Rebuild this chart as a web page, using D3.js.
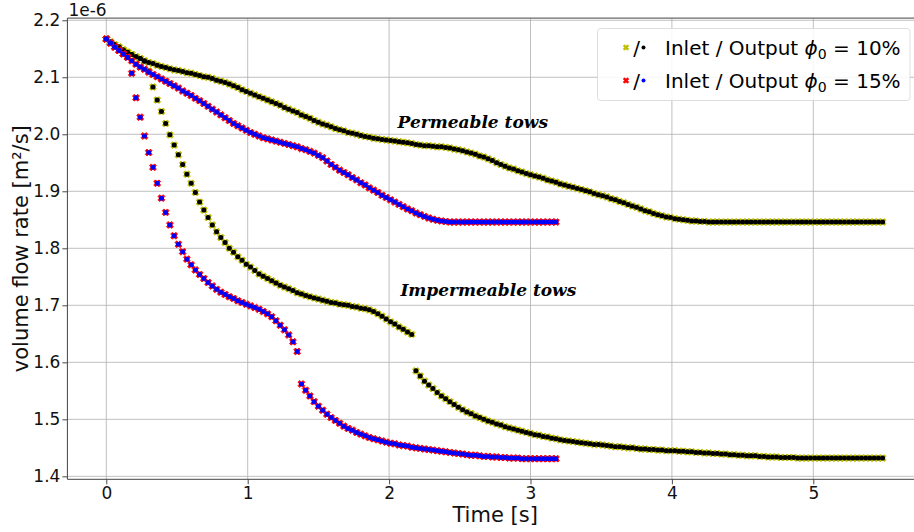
<!DOCTYPE html>
<html>
<head>
<meta charset="utf-8">
<script src="https://cdn.jsdelivr.net/npm/d3@7"></script>
<style>
  html, body { margin: 0; padding: 0; background: #fff; }
  svg { display: block; font-family: "DejaVu Sans", sans-serif; }
</style>
</head>
<body>
<svg id="chart" width="914" height="532"></svg>
<script>
// flow rate samples (x 1e-6 m^2/s), one sample every timeStep seconds
const timeStep = 0.03;

const perm10 = [
  2.167, 2.162, 2.157, 2.153, 2.148, 2.144, 2.140, 2.136, 2.133, 2.129,
  2.126, 2.124, 2.121, 2.119, 2.117, 2.115, 2.113, 2.112, 2.110, 2.108,
  2.107, 2.105, 2.103, 2.101, 2.100, 2.098, 2.095, 2.093, 2.091, 2.088,
  2.085, 2.082, 2.078, 2.075, 2.072, 2.069, 2.066, 2.063, 2.060, 2.057,
  2.054, 2.051, 2.047, 2.044, 2.041, 2.038, 2.034, 2.031, 2.028, 2.024,
  2.021, 2.018, 2.016, 2.013, 2.010, 2.008, 2.006, 2.003, 2.002, 2.000,
  1.998, 1.996, 1.995, 1.993, 1.992, 1.991, 1.990, 1.989, 1.988, 1.987,
  1.986, 1.985, 1.984, 1.982, 1.981, 1.980, 1.980, 1.979, 1.978, 1.978,
  1.977, 1.976, 1.974, 1.973, 1.971, 1.969, 1.967, 1.965, 1.962, 1.960,
  1.957, 1.954, 1.950, 1.947, 1.944, 1.941, 1.939, 1.936, 1.934, 1.931,
  1.929, 1.927, 1.925, 1.923, 1.920, 1.918, 1.916, 1.913, 1.911, 1.909,
  1.907, 1.905, 1.903, 1.901, 1.899, 1.896, 1.894, 1.892, 1.890, 1.887,
  1.885, 1.882, 1.880, 1.877, 1.874, 1.872, 1.869, 1.866, 1.864, 1.861,
  1.859, 1.857, 1.855, 1.854, 1.852, 1.851, 1.850, 1.849, 1.848, 1.848,
  1.847, 1.847, 1.846, 1.846, 1.846, 1.846, 1.846, 1.846, 1.846, 1.846,
  1.846, 1.846, 1.846, 1.846, 1.846, 1.846, 1.846, 1.846, 1.846, 1.846,
  1.846, 1.846, 1.846, 1.846, 1.846, 1.846, 1.846, 1.846, 1.846, 1.846,
  1.846, 1.846, 1.846, 1.846, 1.846, 1.846, 1.846, 1.846, 1.846, 1.846,
  1.846, 1.846, 1.846, 1.846
];

const imperm10 = [
  2.167, 2.162, 2.157, 2.153, 2.148, 2.144, 2.140, 2.136, 2.133, 2.128,
  2.111, 2.083, 2.060, 2.040, 2.019, 1.999, 1.981, 1.964, 1.947, 1.930,
  1.914, 1.898, 1.881, 1.867, 1.854, 1.841, 1.829, 1.819, 1.810, 1.800,
  1.793, 1.785, 1.779, 1.772, 1.767, 1.761, 1.755, 1.751, 1.747, 1.743,
  1.739, 1.735, 1.732, 1.729, 1.726, 1.722, 1.720, 1.717, 1.715, 1.713,
  1.711, 1.709, 1.707, 1.705, 1.704, 1.702, 1.701, 1.700, 1.698, 1.697,
  1.695, 1.694, 1.692, 1.689, 1.685, 1.681, 1.676, 1.671, 1.667, 1.662,
  1.658, 1.653, 1.649, 1.585, 1.576, 1.567, 1.560, 1.554, 1.547, 1.541,
  1.536, 1.531, 1.526, 1.521, 1.517, 1.513, 1.510, 1.506, 1.503, 1.500,
  1.497, 1.495, 1.492, 1.490, 1.487, 1.485, 1.483, 1.481, 1.479, 1.477,
  1.475, 1.473, 1.472, 1.470, 1.469, 1.467, 1.466, 1.464, 1.463, 1.462,
  1.461, 1.460, 1.459, 1.458, 1.457, 1.456, 1.456, 1.455, 1.454, 1.453,
  1.452, 1.452, 1.451, 1.450, 1.450, 1.449, 1.448, 1.448, 1.447, 1.447,
  1.446, 1.446, 1.445, 1.445, 1.445, 1.444, 1.444, 1.443, 1.443, 1.442,
  1.442, 1.441, 1.441, 1.440, 1.440, 1.439, 1.439, 1.438, 1.438, 1.437,
  1.437, 1.436, 1.436, 1.436, 1.435, 1.435, 1.434, 1.434, 1.434, 1.433,
  1.433, 1.433, 1.433, 1.432, 1.432, 1.432, 1.432, 1.432, 1.432, 1.432,
  1.432, 1.432, 1.432, 1.432, 1.432, 1.432, 1.432, 1.432, 1.432, 1.432,
  1.432, 1.432, 1.432, 1.432
];

const perm15 = [
  2.167, 2.160, 2.153, 2.147, 2.141, 2.135, 2.129, 2.123, 2.118, 2.114,
  2.109, 2.105, 2.101, 2.097, 2.093, 2.089, 2.085, 2.081, 2.076, 2.072,
  2.068, 2.063, 2.059, 2.054, 2.049, 2.044, 2.039, 2.034, 2.029, 2.024,
  2.019, 2.015, 2.011, 2.007, 2.003, 2.000, 1.997, 1.994, 1.992, 1.990,
  1.988, 1.986, 1.984, 1.982, 1.980, 1.978, 1.975, 1.973, 1.970, 1.967,
  1.963, 1.959, 1.953, 1.947, 1.942, 1.937, 1.933, 1.929, 1.924, 1.920,
  1.915, 1.911, 1.906, 1.902, 1.898, 1.893, 1.889, 1.885, 1.881, 1.877,
  1.873, 1.869, 1.866, 1.862, 1.859, 1.856, 1.853, 1.851, 1.849, 1.848,
  1.847, 1.846, 1.846, 1.846, 1.846, 1.846, 1.846, 1.846, 1.846, 1.846,
  1.846, 1.846, 1.846, 1.846, 1.846, 1.846, 1.846, 1.846, 1.846, 1.846,
  1.846, 1.846, 1.846, 1.846, 1.846, 1.846, 1.846
];

const imperm15 = [
  2.167, 2.160, 2.153, 2.147, 2.141, 2.135, 2.107, 2.064, 2.030, 1.997,
  1.968, 1.942, 1.914, 1.888, 1.863, 1.841, 1.822, 1.807, 1.794, 1.781,
  1.771, 1.762, 1.754, 1.747, 1.740, 1.734, 1.728, 1.723, 1.719, 1.715,
  1.712, 1.708, 1.705, 1.702, 1.699, 1.696, 1.693, 1.689, 1.685, 1.680,
  1.673, 1.665, 1.657, 1.648, 1.636, 1.619, 1.562, 1.551, 1.541, 1.531,
  1.523, 1.516, 1.509, 1.503, 1.498, 1.493, 1.488, 1.484, 1.481, 1.477,
  1.474, 1.471, 1.468, 1.466, 1.464, 1.462, 1.460, 1.458, 1.457, 1.455,
  1.454, 1.453, 1.451, 1.450, 1.449, 1.448, 1.447, 1.446, 1.445, 1.444,
  1.443, 1.442, 1.441, 1.440, 1.439, 1.438, 1.437, 1.437, 1.436, 1.435,
  1.435, 1.434, 1.434, 1.433, 1.433, 1.432, 1.432, 1.432, 1.431, 1.431,
  1.431, 1.431, 1.431, 1.431, 1.431, 1.431, 1.431
];

const xTicks = [0, 1, 2, 3, 4, 5];
const yTicks = [1.4, 1.5, 1.6, 1.7, 1.8, 1.9, 2.0, 2.1, 2.2];
const porosities = ['10%', '15%'];

const annotations = [
  { text: 'Permeable tows', t: 2.06, v: 2.0105 },
  { text: 'Impermeable tows', t: 2.08, v: 1.7158 },
];

// inlet = X marker, output = dot; both curves of a porosity share colours
const groups = [
  { phi: porosities[0], curves: [perm10, imperm10], inlet: '#bfbf00', output: '#000000' },
  { phi: porosities[1], curves: [perm15, imperm15], inlet: '#ff0000', output: '#0000ff' },
];

const svg = d3.select('#chart');
const plot = { left: 67.4, right: 922.9, top: 18.1, bottom: 479.3 };

const x = d3.scaleLinear().domain([-0.275, 5.775]).range([plot.left, plot.right]);
const y = d3.scaleLinear().domain([1.3948, 2.2038]).range([plot.bottom, plot.top]);

const toPoints = vals => vals.map((v, i) => ({ t: i * timeStep, v }));

// grid
const grid = svg.append('g').attr('stroke', '#b0b0b0').attr('stroke-width', 0.8);
grid.selectAll('line.gx').data(xTicks).join('line')
  .attr('x1', d => x(d)).attr('x2', d => x(d))
  .attr('y1', plot.top).attr('y2', plot.bottom);
grid.selectAll('line.gy').data(yTicks).join('line')
  .attr('x1', plot.left).attr('x2', plot.right)
  .attr('y1', d => y(d)).attr('y2', d => y(d));

// markers
const xSym = d3.symbol().type(d3.symbolCross).size(30);
const marks = svg.append('g');
groups.forEach(g => {
  const pts = g.curves.flatMap(toPoints);
  marks.append('g').selectAll('path').data(pts).join('path')
    .attr('d', xSym)
    .attr('transform', d => `translate(${x(d.t)},${y(d.v)}) rotate(45)`)
    .attr('fill', g.inlet).attr('stroke', g.inlet).attr('stroke-width', 0.8);
  marks.append('g').selectAll('circle').data(pts).join('circle')
    .attr('cx', d => x(d.t)).attr('cy', d => y(d.v)).attr('r', 2.5)
    .attr('fill', g.output);
});

// axes
const xAxis = svg.append('g')
  .attr('transform', `translate(0,${plot.bottom})`)
  .call(d3.axisBottom(x).tickValues(xTicks).tickFormat(d3.format('d')).tickSize(5).tickSizeOuter(0).tickPadding(3));
const yAxis = svg.append('g')
  .attr('transform', `translate(${plot.left},0)`)
  .call(d3.axisLeft(y).tickValues(yTicks).tickFormat(d3.format('.1f')).tickSize(5).tickSizeOuter(0).tickPadding(2));
[xAxis, yAxis].forEach(a => {
  a.selectAll('text').attr('font-size', 17).attr('font-family', '"DejaVu Sans", sans-serif').attr('fill', '#111');
  a.selectAll('line').attr('stroke', '#333').attr('stroke-width', 0.9);
  a.select('.domain').remove();
});

// spines
svg.append('path')
  .attr('d', `M${plot.right},${plot.top}H${plot.left}V${plot.bottom}H${plot.right}`)
  .attr('fill', 'none').attr('stroke', '#444').attr('stroke-width', 1);

// offset text + labels
svg.append('text').attr('x', plot.left + 1).attr('y', 16).attr('font-size', 17).attr('fill', '#111').text('1e-6');
svg.append('text').attr('x', (plot.left + plot.right) / 2).attr('y', 521.5)
  .attr('text-anchor', 'middle').attr('font-size', 21).attr('fill', '#111').text('Time [s]');
svg.append('text')
  .attr('transform', `translate(28,${(plot.top + plot.bottom) / 2}) rotate(-90)`)
  .attr('text-anchor', 'middle').attr('font-size', 21).attr('fill', '#111').text('volume flow rate [m²/s]');

// annotations
svg.selectAll('text.note').data(annotations).join('text')
  .attr('class', 'note')
  .attr('x', d => x(d.t)).attr('y', d => y(d.v))
  .attr('font-family', '"DejaVu Serif", serif').attr('font-weight', 'bold').attr('font-style', 'italic')
  .attr('font-size', 17).attr('fill', '#000')
  .text(d => d.text);

// legend
const legend = svg.append('g').attr('transform', 'translate(597.5,28.5)');
legend.append('rect').attr('width', 312.5).attr('height', 72).attr('rx', 3)
  .attr('fill', '#fff').attr('fill-opacity', 0.85).attr('stroke', '#d5d5d5').attr('stroke-width', 0.8);
const legSym = d3.symbol().type(d3.symbolCross).size(20);
groups.forEach((g, i) => {
  const row = legend.append('g').attr('transform', `translate(0,${19 + i * 33})`);
  row.append('path').attr('d', legSym).attr('transform', 'translate(28.5,0) rotate(45)')
    .attr('fill', g.inlet).attr('stroke', g.inlet).attr('stroke-width', 0.6);
  row.append('text').attr('x', 39).attr('y', 7).attr('text-anchor', 'middle').attr('font-size', 20).text('/');
  row.append('circle').attr('cx', 46).attr('cy', 0).attr('r', 2).attr('fill', g.output);
  const t = row.append('text').attr('x', 67.5).attr('y', 7).attr('font-size', 20).attr('fill', '#000');
  t.append('tspan').text('Inlet / Output ');
  t.append('tspan').attr('font-style', 'italic').text('ϕ');
  t.append('tspan').attr('font-size', 14).attr('dy', 4).text('0');
  t.append('tspan').attr('dy', -4).text(' = ' + g.phi);
});
</script>
</body>
</html>
